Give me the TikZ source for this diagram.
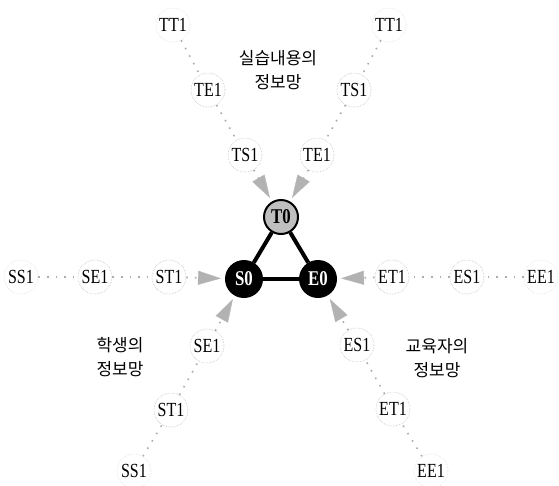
\documentclass[tikz,border=0pt]{standalone}
\usepackage{fontspec}
\setmainfont{Liberation Serif}
\newfontfamily\leaffont[FakeStretch=0.8]{Liberation Serif}
\newfontfamily\krfont{Noto Sans CJK KR}
\usetikzlibrary{arrows.meta}

\begin{document}
\begin{tikzpicture}[x=1pt,y=-1pt,
  leaf/.style={circle, draw=gray!50, densely dotted, line width=0.6pt,
    minimum size=34pt, inner sep=0pt, font=\leaffont\fontsize{20}{22}\selectfont},
  outer/.style={leaf, draw=gray!25},
  hub/.style={circle, fill=black, draw=black, line width=2pt, minimum size=36pt,
    inner sep=0pt, text=white, font=\leaffont\fontsize{21}{23}\selectfont\bfseries},
  tophub/.style={hub, fill=gray!50, text=black, minimum size=34pt},
  link/.style={draw=gray!65, line width=1.6pt, dash pattern=on 1.6pt off 7pt},
  feed/.style={link, shorten >=4pt,
    -{Triangle[length=23pt,width=14pt,fill=gray!60,color=gray!55,line width=0.4pt]}},
  tri/.style={line width=4pt, black},
  caption/.style={font=\krfont\fontsize{17}{24}\selectfont, align=center}
]
\useasboundingbox (0,0) rectangle (559,485);

% central triangle of hubs
\node[tophub] (T0) at (281,217) {T0};
\node[hub] (S0) at (244,279) {S0};
\node[hub] (E0) at (318,279) {E0};
\draw[tri] (T0) -- (S0);
\draw[tri] (T0) -- (E0);
\draw[tri] (S0) -- (E0);

% practice-content network (top)
\node[outer] (tlT) at (173,25) {TT1};
\node[leaf]  (tlE) at (208,90) {TE1};
\node[leaf]  (tlS) at (245,155) {TS1};
\node[outer] (trT) at (389,25) {TT1};
\node[leaf]  (trS) at (354,90) {TS1};
\node[leaf]  (trE) at (317,155) {TE1};
\draw[link] (tlT) -- (tlE);
\draw[link] (tlE) -- (tlS);
\draw[feed] (tlS) -- (T0);
\draw[link] (trT) -- (trS);
\draw[link] (trS) -- (trE);
\draw[feed] (trE) -- (T0);

% student network (left and lower left)
\node[outer] (lS) at (21,277) {SS1};
\node[leaf]  (lE) at (95,277) {SE1};
\node[leaf]  (lT) at (169,277) {ST1};
\draw[link] (lS) -- (lE);
\draw[link] (lE) -- (lT);
\draw[feed] (lT) -- (S0);
\node[outer] (bS) at (134,471) {SS1};
\node[leaf]  (bT) at (171,410) {ST1};
\node[leaf]  (bE) at (207,346) {SE1};
\draw[link] (bS) -- (bT);
\draw[link] (bT) -- (bE);
\draw[feed] (bE) -- (S0);

% educator network (right and lower right)
\node[outer] (rE) at (541,277) {EE1};
\node[leaf]  (rS) at (467,277) {ES1};
\node[leaf]  (rT) at (392,277) {ET1};
\draw[link] (rE) -- (rS);
\draw[link] (rS) -- (rT);
\draw[feed] (rT) -- (E0);
\node[outer] (dE) at (431,471) {EE1};
\node[leaf]  (dT) at (393,409) {ET1};
\node[leaf]  (dS) at (357,345) {ES1};
\draw[link] (dE) -- (dT);
\draw[link] (dT) -- (dS);
\draw[feed] (dS) -- (E0);

% captions
\node[caption] (capT) at (278,70) {실습내용의\\정보망};
\node[caption] (capS) at (120,357) {학생의\\정보망};
\node[caption] (capE) at (437,358) {교육자의\\정보망};
\end{tikzpicture}
\end{document}
